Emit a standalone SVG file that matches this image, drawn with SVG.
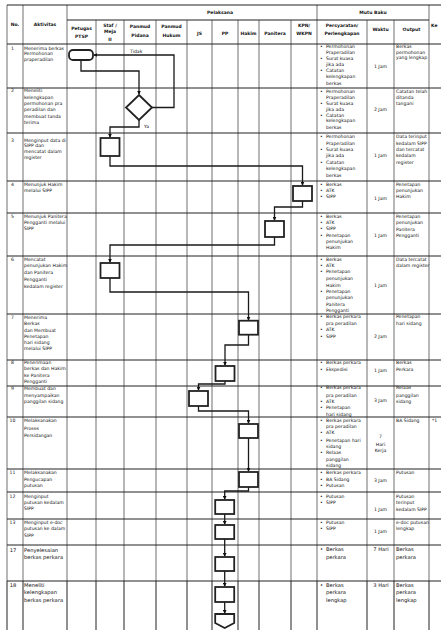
<svg xmlns="http://www.w3.org/2000/svg" width="441" height="630" viewBox="0 0 441 630">
<style>
text{font-family:"DejaVu Sans","Liberation Sans",sans-serif;font-size:4.6px;fill:#111}
.b{font-weight:bold;font-size:4.5px}
.c{text-anchor:middle}
.l{font-size:5.2px}
.h{stroke:#222;stroke-width:1;fill:none}
.v{stroke:#999;stroke-width:1.4;fill:none}
.vk{stroke:#222;stroke-width:1;fill:none}
.n{fill:#fff;stroke:#222;stroke-width:1.8}
.e{fill:none;stroke:#1a1a1a;stroke-width:1.3;marker-end:url(#ar)}
</style>
<defs>
<marker id="ar" viewBox="0 0 6 6" refX="5" refY="3" markerWidth="4" markerHeight="4" orient="auto" markerUnits="userSpaceOnUse"><path d="M0,0 L6,3 L0,6 z" fill="#111"/></marker>
</defs>
<rect width="441" height="630" fill="#fff"/>
<g id="table">
<path class="v" d="M7,5V581M23,5V581M67,5V581M96,20V581M124,20V581M156,20V581M187,20V581M212,20V581M238,20V581M259,20V581M291,20V581M317,5V581M367,20V581M394,20V581M429,5V581"/>
<path class="vk" d="M7,581V630M23,581V630M67,581V630M96,581V630M124,581V630M156,581V630M187,581V630M212,581V630M238,581V630M259,581V630M291,581V630M317,581V630M367,581V630M394,581V630M429,581V630"/>
<path class="h" d="M7,5H441M67,20H429M7,44H441M7,88H441M7,133H441M7,181H441M7,213H441M7,256H441M7,314H441M7,360H441M7,386H441M7,417H441M7,469H441M7,492H441M7,519H441M7,545H441M7,581H441"/>
</g>
<g id="header">
<text class="b c" x="15" y="26">No.</text>
<text class="b c" x="45" y="26">Aktivitas</text>
<text class="b c" x="220" y="14.3">Pelaksana</text>
<text class="b c" x="373" y="14.3">Mutu Baku</text>
<text class="b c" x="81.5" y="29.9">Petugas</text><text class="b c" x="81.5" y="38.3">PTSP</text>
<text class="b c" x="110" y="26.6">Staf /</text><text class="b c" x="110" y="33.3">Meja</text><text class="b c" x="110" y="40.6">II</text>
<text class="b c" x="140" y="28.3">Panmud</text><text class="b c" x="140" y="36.6">Pidana</text>
<text class="b c" x="171.5" y="28.3">Panmud</text><text class="b c" x="171.5" y="36.6">Hukum</text>
<text class="b c" x="199.5" y="34.9">JS</text>
<text class="b c" x="225" y="34.9">PP</text>
<text class="b c" x="248.5" y="34.9">Hakim</text>
<text class="b c" x="275" y="34.9">Panitera</text>
<text class="b c" x="304" y="26.6">KPN/</text><text class="b c" x="304" y="34.9">WKPN</text>
<text class="b c" x="342" y="26.6">Persyaratan/</text><text class="b c" x="342" y="34.9">Perlengkapan</text>
<text class="b c" x="380.5" y="30.6">Waktu</text>
<text class="b c" x="411.5" y="30.6">Output</text>
<text class="b" x="431" y="26.6">Ke</text>
</g>
<g id="aktivitas">
<text class="c" x="12.5" y="49.9">1</text>
<text x="24" y="49.9">Menerima berkas</text><text x="24" y="55.3">Permohonan</text><text x="24" y="60.6">praperadilan</text>
<text class="c" x="12.5" y="92.3">2</text>
<text x="24" y="92.3">Meneliti</text><text x="24" y="98.6">kelengkapan</text><text x="24" y="104.9">permohonan pra</text><text x="24" y="111.2">peradilan dan</text><text x="24" y="117.5">membuat tanda</text><text x="24" y="123.8">terima</text>
<text class="c" x="12.5" y="141.6">3</text>
<text x="24" y="141.6">Menginput data di</text><text x="24" y="147.3">SIPP dan</text><text x="24" y="153.3">mencatat dalam</text><text x="24" y="158.6">register</text>
<text class="c" x="12.5" y="185.9">4</text>
<text x="24" y="185.9">Menunjuk Hakim</text><text x="24" y="191.6">melalui SIPP</text>
<text class="c" x="12.5" y="218.3">5</text>
<text x="24" y="218.3">Menunjuk Panitera</text><text x="24" y="223.9">Pengganti melalui</text><text x="24" y="229.6">SIPP</text>
<text class="c" x="12.5" y="260.6">6</text>
<text x="24" y="260.6">Mencatat</text><text x="24" y="267.4">penunjukan Hakim</text><text x="24" y="274.1">dan Panitera</text><text x="24" y="280.9">Pengganti</text><text x="24" y="287.6">kedalam register</text>
<text class="c" x="12.5" y="318.9">7</text>
<text x="24" y="318.9">Menerima</text><text x="24" y="325.2">Berkas</text><text x="24" y="331.5">dan Membuat</text><text x="24" y="337.8">Penetapan</text><text x="24" y="344.1">hari sidang</text><text x="24" y="350.4">melalui SIPP</text>
<text class="c" x="12.5" y="363.9">8</text>
<text x="24" y="363.9">Penerimaan</text><text x="24" y="370.3">berkas dan Hakim</text><text x="24" y="376.6">ke Panitera</text><text x="24" y="382.6">Pengganti</text>
<text class="c" x="12.5" y="389.6">9</text>
<text x="24" y="389.6">Membuat dan</text><text x="24" y="396.6">menyampaikan</text><text x="24" y="403.4">panggilan sidang</text>
<text class="c" x="12.5" y="422.3">10</text>
<text x="24" y="422.3">Melaksanakan</text><text x="24" y="429.5">Proses</text><text x="24" y="436.6">Persidangan</text>
<text class="c" x="12.5" y="474.3">11</text>
<text x="24" y="474.3">Melaksanakan</text><text x="24" y="480.9">Pengucapan</text><text x="24" y="487.3">putusan</text>
<text class="c" x="12.5" y="497.6">12</text>
<text x="24" y="497.6">Menginput</text><text x="24" y="503.9">putusan kedalam</text><text x="24" y="509.9">SIPP</text>
<text class="c" x="12.5" y="523.9">13</text>
<text x="24" y="523.9">Menginput e-doc</text><text x="24" y="530.4">putusan ke dalam</text><text x="24" y="536.6">SIPP</text>
<text class="c l" x="13" y="551.9">17</text>
<text class="l" x="24" y="551.9">Penyelesaian</text><text class="l" x="24" y="559.2">berkas perkara</text>
<text class="c l" x="13" y="586.9">18</text>
<text class="l" x="24" y="586.9">Meneliti</text><text class="l" x="24" y="594.4">kelengkapan</text><text class="l" x="24" y="601.9">berkas perkara</text>
</g>
<g id="persyaratan">
<text x="320" y="48.3">•</text><text x="326" y="48.3">Permohonan</text><text x="326" y="54">Praperadilan</text><text x="320" y="60">•</text><text x="326" y="60">Surat kuasa</text><text x="326" y="65.6">jika ada</text><text x="320" y="72.3">•</text><text x="326" y="72.3">Catatan</text><text x="326" y="78.3">kelengkapan</text><text x="326" y="85.4">berkas</text>
<text x="320" y="93.3">•</text><text x="326" y="93.3">Permohonan</text><text x="326" y="98.9">Praperadilan</text><text x="320" y="104.9">•</text><text x="326" y="104.9">Surat kuasa</text><text x="326" y="110.6">jika ada</text><text x="320" y="116.6">•</text><text x="326" y="116.6">Catatan</text><text x="326" y="122.3">kelengkapan</text><text x="326" y="128.9">berkas</text>
<text x="320" y="138.3">•</text><text x="326" y="138.3">Permohonan</text><text x="326" y="144.6">Praperadilan</text><text x="320" y="150.9">•</text><text x="326" y="150.9">Surat kuasa</text><text x="326" y="157.2">jika ada</text><text x="320" y="163.6">•</text><text x="326" y="163.6">Catatan</text><text x="326" y="170.2">kelengkapan</text><text x="326" y="176.8">berkas</text>
<text x="320" y="185.9">•</text><text x="326" y="185.9">Berkas</text><text x="320" y="191.6">•</text><text x="326" y="191.6">ATK</text><text x="320" y="197.6">•</text><text x="326" y="197.6">SIPP</text>
<text x="320" y="218.3">•</text><text x="326" y="218.3">Berkas</text><text x="320" y="223.9">•</text><text x="326" y="223.9">ATK</text><text x="320" y="229.9">•</text><text x="326" y="229.9">SIPP</text><text x="320" y="236.6">•</text><text x="326" y="236.6">Penetapan</text><text x="326" y="242.6">penunjukan</text><text x="326" y="248.9">Hakim</text>
<text x="320" y="260.6">•</text><text x="326" y="260.6">Berkas</text><text x="320" y="266.6">•</text><text x="326" y="266.6">ATK</text><text x="320" y="273.3">•</text><text x="326" y="273.3">Penetapan</text><text x="326" y="279.9">penunjukan</text><text x="326" y="286.6">Hakim</text><text x="320" y="292.6">•</text><text x="326" y="292.6">Penetapan</text><text x="326" y="299.3">penunjukan</text><text x="326" y="305.6">Panitera</text><text x="326" y="311.6">Pengganti</text>
<text x="320" y="318.3">•</text><text x="326" y="318.3">Berkas perkara</text><text x="326" y="324.9">pra peradilan</text><text x="320" y="330.9">•</text><text x="326" y="330.9">ATK</text><text x="320" y="337.6">•</text><text x="326" y="337.6">SIPP</text>
<text x="320" y="363.9">•</text><text x="326" y="363.9">Berkas perkara</text><text x="320" y="370.9">•</text><text x="326" y="370.9">Ekspedisi</text>
<text x="320" y="389.3">•</text><text x="326" y="389.3">Berkas perkara</text><text x="326" y="396.6">pra peradilan</text><text x="320" y="403.3">•</text><text x="326" y="403.3">ATK</text><text x="320" y="409.3">•</text><text x="326" y="409.3">Penetapan</text><text x="326" y="415.9">hari sidang</text>
<text x="320" y="421.6">•</text><text x="326" y="421.6">Berkas perkara</text><text x="326" y="428.3">pra peradilan</text><text x="320" y="434.3">•</text><text x="326" y="434.3">ATK</text><text x="320" y="441.6">•</text><text x="326" y="441.6">Penetapan hari</text><text x="326" y="447.6">sidang</text><text x="320" y="454.3">•</text><text x="326" y="454.3">Relaas</text><text x="326" y="460.6">panggilan</text><text x="326" y="466.6">sidang</text>
<text x="320" y="473.9">•</text><text x="326" y="473.9">Berkas perkara</text><text x="320" y="480.6">•</text><text x="326" y="480.6">BA Sidang</text><text x="320" y="486.6">•</text><text x="326" y="486.6">Putusan</text>
<text x="320" y="497.6">•</text><text x="326" y="497.6">Putusan</text><text x="320" y="503.9">•</text><text x="326" y="503.9">SIPP</text>
<text x="320" y="523.9">•</text><text x="326" y="523.9">Putusan</text><text x="320" y="529.9">•</text><text x="326" y="529.9">SIPP</text>
<text class="l" x="320" y="551.2">•</text><text class="l" x="326" y="551.2">Berkas</text><text class="l" x="326" y="559.2">perkara</text>
<text class="l" x="320" y="586.9">•</text><text class="l" x="326" y="586.9">Berkas</text><text class="l" x="326" y="594.2">perkara</text><text class="l" x="326" y="601.9">lengkap</text>
</g>
<g id="waktu">
<text class="c" x="380.5" y="68.3">1 Jam</text>
<text class="c" x="380.5" y="110.6">2 Jam</text>
<text class="c" x="380.5" y="157">1 Jam</text>
<text class="c" x="380.5" y="200.3">1 Jam</text>
<text class="c" x="380.5" y="236.6">1 Jam</text>
<text class="c" x="380.5" y="286.6">1 Jam</text>
<text class="c" x="380.5" y="337.6">2 Jam</text>
<text class="c" x="380.5" y="371.6">1 Jam</text>
<text class="c" x="380.5" y="402.3">3 Jam</text>
<text class="c" x="380.5" y="438.3">7</text><text class="c" x="380.5" y="445.6">Hari</text><text class="c" x="380.5" y="451.6">Kerja</text>
<text class="c" x="380.5" y="482.3">3 Jam</text>
<text class="c" x="380.5" y="510.6">1 Jam</text>
<text class="c" x="380.5" y="533.3">1 Jam</text>
<text class="c l" x="381" y="551.2">7 Hari</text>
<text class="c l" x="381" y="586.9">3 Hari</text>
</g>
<g id="output">
<text x="396" y="48.3">Berkas</text><text x="396" y="53.9">permohonan</text><text x="396" y="58.9">yang lengkap</text>
<text x="396" y="93.3">Catatan telah</text><text x="396" y="98.9">ditanda</text><text x="396" y="104.9">tangani</text>
<text x="396" y="138.3">Data terinput</text><text x="396" y="144.6">kedalam SIPP</text><text x="396" y="150.9">dan tercatat</text><text x="396" y="157.2">kedalam</text><text x="396" y="163.6">register</text>
<text x="396" y="185.9">Penetapan</text><text x="396" y="191.6">penunjukan</text><text x="396" y="197.6">Hakim</text>
<text x="396" y="218.3">Penetapan</text><text x="396" y="223.9">penunjukan</text><text x="396" y="230.6">Panitera</text><text x="396" y="237.3">Pengganti</text>
<text x="396" y="260.6">Data tercatat</text><text x="396" y="267.3">dalam register</text>
<text x="396" y="318.3">Penetapan</text><text x="396" y="324.9">hari sidang</text>
<text x="396" y="363.9">Berkas</text><text x="396" y="370.6">Perkara</text>
<text x="396" y="389.3">Relaas</text><text x="396" y="396.6">panggilan</text><text x="396" y="403.3">sidang</text>
<text x="396" y="421.6">BA Sidang</text>
<text x="396" y="473.9">Putusan</text>
<text x="396" y="497.6">Putusan</text><text x="396" y="503.9">terinput</text><text x="396" y="510.6">kedalam SIPP</text>
<text x="396" y="523.9">e-doc putusan</text><text x="396" y="529.9">lengkap</text>
<text class="l" x="396" y="551.2">Berkas</text><text class="l" x="396" y="559.2">perkara</text>
<text class="l" x="396" y="586.9">Berkas</text><text class="l" x="396" y="594.2">perkara</text><text class="l" x="396" y="601.9">lengkap</text>
<text x="432" y="422.3">*1</text>
</g>
<g id="connectors">
<path class="e" d="M152,107.5H174V55H94"/>
<path class="e" d="M81,60V71H139V94"/>
<path class="e" d="M139,120V127H110V137"/>
<path class="e" d="M110,156V166H302.5V185"/>
<path class="e" d="M302.5,201V207H274.5V220"/>
<path class="e" d="M274.5,237V245H110V262"/>
<path class="e" d="M110,278V292H248.5V320"/>
<path class="e" d="M248.5,335V345H225V365"/>
<path class="e" d="M225,381V384H198.5V390"/>
<path class="e" d="M198.5,406V411H248.5V423"/>
<path class="e" d="M248.5,438V471"/>
<path class="e" d="M248.5,487V491H224.7V499"/>
<path class="e" d="M224.7,514V524"/>
<path class="e" d="M224.7,539V556"/>
<path class="e" d="M224.7,571V586"/>
<path class="e" d="M224.7,602V613"/>
<text x="130" y="52.6">Tidak</text>
<text x="144" y="127.6">Ya</text>
</g>
<g id="n1"><rect class="n" x="69" y="50" width="24" height="10" rx="4"/></g>
<g id="n2"><path class="n" d="M139,95L152,107.5L139,120L126,107.5z"/></g>
<g id="n3"><rect class="n" x="100.5" y="138" width="19" height="18"/></g>
<g id="n4"><rect class="n" x="293" y="186" width="19" height="15"/></g>
<g id="n5"><rect class="n" x="265" y="221" width="19" height="16"/></g>
<g id="n6"><rect class="n" x="100.5" y="263" width="19" height="15"/></g>
<g id="n7"><rect class="n" x="239" y="320.7" width="19" height="14"/></g>
<g id="n8"><rect class="n" x="215.5" y="366" width="19" height="15"/></g>
<g id="n9"><rect class="n" x="189" y="391" width="19" height="15"/></g>
<g id="n10"><rect class="n" x="239" y="424" width="19" height="14"/></g>
<g id="n11"><rect class="n" x="239" y="472" width="19" height="15"/></g>
<g id="n12"><rect class="n" x="215.2" y="500" width="19" height="14"/></g>
<g id="n13"><rect class="n" x="215.2" y="525" width="19" height="14"/></g>
<g id="n17"><rect class="n" x="215.2" y="557" width="19" height="14"/></g>
<g id="n18"><rect class="n" x="215.2" y="587" width="19" height="15"/></g>
<g id="n19"><path class="n" d="M215.2,614H234.2V623L224.7,628L215.2,623z"/></g>
</svg>
